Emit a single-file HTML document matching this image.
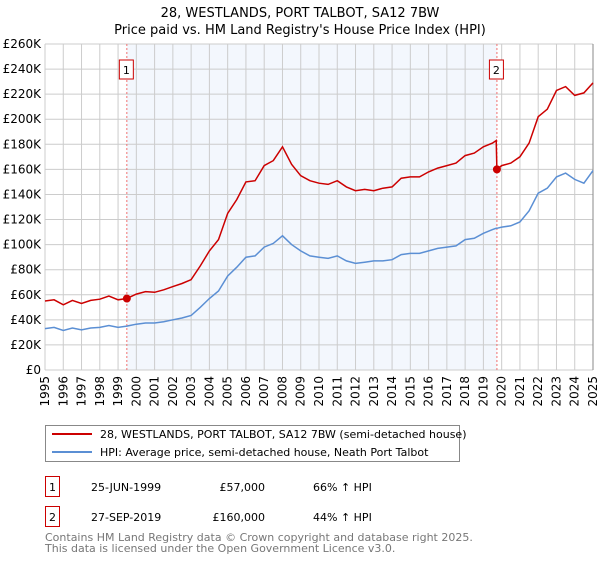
<!DOCTYPE html>
<html><head><meta charset="utf-8"><style>
body{margin:0;background:#fff;font-family:"Liberation Sans","DejaVu Sans",sans-serif;}
svg text{font-family:"DejaVu Sans","Liberation Sans",sans-serif;}
</style></head><body>
<svg id="chart" width="600" height="560" xmlns="http://www.w3.org/2000/svg">
<text x="300" y="17" text-anchor="middle" font-size="13" fill="#000">28, WESTLANDS, PORT TALBOT, SA12 7BW</text>
<text x="300" y="34" text-anchor="middle" font-size="13" fill="#000">Price paid vs. HM Land Registry's House Price Index (HPI)</text>
<g id="plot"></g>
<g>
<rect x="45.5" y="425.5" width="414" height="36" fill="#fff" stroke="#888"/>
<line x1="52" y1="434" x2="92" y2="434" stroke="#cc0000" stroke-width="2"/>
<text x="100" y="438" font-size="11">28, WESTLANDS, PORT TALBOT, SA12 7BW (semi-detached house)</text>
<line x1="52" y1="452" x2="92" y2="452" stroke="#5b8fd4" stroke-width="2"/>
<text x="100" y="456" font-size="11">HPI: Average price, semi-detached house, Neath Port Talbot</text>
</g>
<g font-size="11">
<rect x="45.5" y="476.5" width="14" height="20" fill="#fff" stroke="#cc0000"/>
<text x="52.5" y="491" text-anchor="middle">1</text>
<text x="91" y="491">25-JUN-1999</text>
<text x="265" y="491" text-anchor="end">£57,000</text>
<text x="313" y="491">66% ↑ HPI</text>
<rect x="45.5" y="506.5" width="14" height="20" fill="#fff" stroke="#cc0000"/>
<text x="52.5" y="521" text-anchor="middle">2</text>
<text x="91" y="521">27-SEP-2019</text>
<text x="265" y="521" text-anchor="end">£160,000</text>
<text x="313" y="521">44% ↑ HPI</text>
</g>
<text x="45" y="541" font-size="11" fill="#777">Contains HM Land Registry data © Crown copyright and database right 2025.</text>
<text x="45" y="552" font-size="11" fill="#777">This data is licensed under the Open Government Licence v3.0.</text>
</svg>
<script>
const years=[1995,1995.5,1996,1996.5,1997,1997.5,1998,1998.5,1999,1999.48,2000,2000.5,2001,2001.5,2002,2002.5,2003,2003.5,2004,2004.5,2005,2005.5,2006,2006.5,2007,2007.5,2008,2008.5,2009,2009.5,2010,2010.5,2011,2011.5,2012,2012.5,2013,2013.5,2014,2014.5,2015,2015.5,2016,2016.5,2017,2017.5,2018,2018.5,2019,2019.5,2019.7,2019.74,2020,2020.5,2021,2021.5,2022,2022.5,2023,2023.5,2024,2024.5,2025];
const hpi=[33,34,31.5,33.5,32,33.5,34,35.5,34,35,36.5,37.5,37.5,38.5,40,41.5,43.5,50,57,63,75,82,90,91,98,101,107,100,95,91,90,89,91,87,85,86,87,87,88,92,93,93,95,97,98,99,104,105,109,112,113,113,114,115,118,127,141,145,154,157,152,149,159];
const price=[55,56,52,55.5,53,55.5,56.5,59,56,57,60.5,62.5,62,64,66.5,69,72,83,95,104,125,136,150,151,163,167,178,164,155,151,149,148,151,146,143,144,143,145,146,153,154,154,158,161,163,165,171,173,178,181,183,160,163,165,170,181,202,208,223,226,219,221,229];
const yTicks=[0,20,40,60,80,100,120,140,160,180,200,220,240,260];
const xTicks=[1995,1996,1997,1998,1999,2000,2001,2002,2003,2004,2005,2006,2007,2008,2009,2010,2011,2012,2013,2014,2015,2016,2017,2018,2019,2020,2021,2022,2023,2024,2025];
const sales=[{n:1,t:1999.48,v:57},{n:2,t:2019.74,v:160}];
const X0=45,X1=593,Y0=370,Y1=44;
const xs=t=>X0+(t-1995)/30*(X1-X0);
const ys=v=>Y0-v/260*(Y0-Y1);
const NS="http://www.w3.org/2000/svg";
const g=document.getElementById('plot');
function mk(tag,attrs,parent){const e=document.createElementNS(NS,tag);for(const k in attrs)e.setAttribute(k,attrs[k]);(parent||g).appendChild(e);return e;}
let e=mk('rect',{x:xs(sales[0].t),y:Y1,width:xs(sales[1].t)-xs(sales[0].t),height:Y0-Y1,fill:'#eef3fc',opacity:0.7});


yTicks.forEach(v=>{
 let l=mk('line',{x1:X0,x2:X1,y1:ys(v),y2:ys(v),stroke:'#ccc','stroke-width':1});
 
 
 let t=mk('text',{x:X0-4,y:ys(v)+4,'text-anchor':'end','font-size':12});
 
 
 t.textContent=v===0?'£0':'£'+v+'K';
});
xTicks.forEach(y=>{
 let l=mk('line',{x1:xs(y),x2:xs(y),y1:Y1,y2:Y0,stroke:'#ccc','stroke-width':1});
 
 
 let t=mk('text',{x:0,y:0,'text-anchor':'end','font-size':12,transform:`translate(${xs(y)+4},376) rotate(-90)`});
 
 
 t.textContent=y;
});
let ax=mk('line',{x1:X1,x2:X1,y1:Y1,y2:Y0,stroke:'#888'});


sales.forEach(s=>{
 let l=mk('line',{x1:xs(s.t),x2:xs(s.t),y1:Y1,y2:Y0,stroke:'#f07070','stroke-dasharray':'2,2'});
 
 
 let r=mk('rect',{x:xs(s.t)-7.5,y:60,width:14,height:19,fill:'#fff',stroke:'#cc0000'});
 
 
 let t=mk('text',{x:xs(s.t)-0.5,y:74,'text-anchor':'middle','font-size':11});
 
 
 t.textContent=s.n;
});
function path(vals){return vals.map((v,i)=>(i?'L':'M')+xs(years[i]).toFixed(1)+','+ys(v).toFixed(1)).join('');}
let hp=mk('path',{d:path(hpi),fill:'none',stroke:'#5b8fd4','stroke-width':1.5});


let pp=mk('path',{d:path(price),fill:'none',stroke:'#cc0000','stroke-width':1.5});


sales.forEach(s=>{
 let c=mk('circle',{cx:xs(s.t),cy:ys(s.v),r:4,fill:'#cc0000'});
 
 
});
</script>
</body></html>
